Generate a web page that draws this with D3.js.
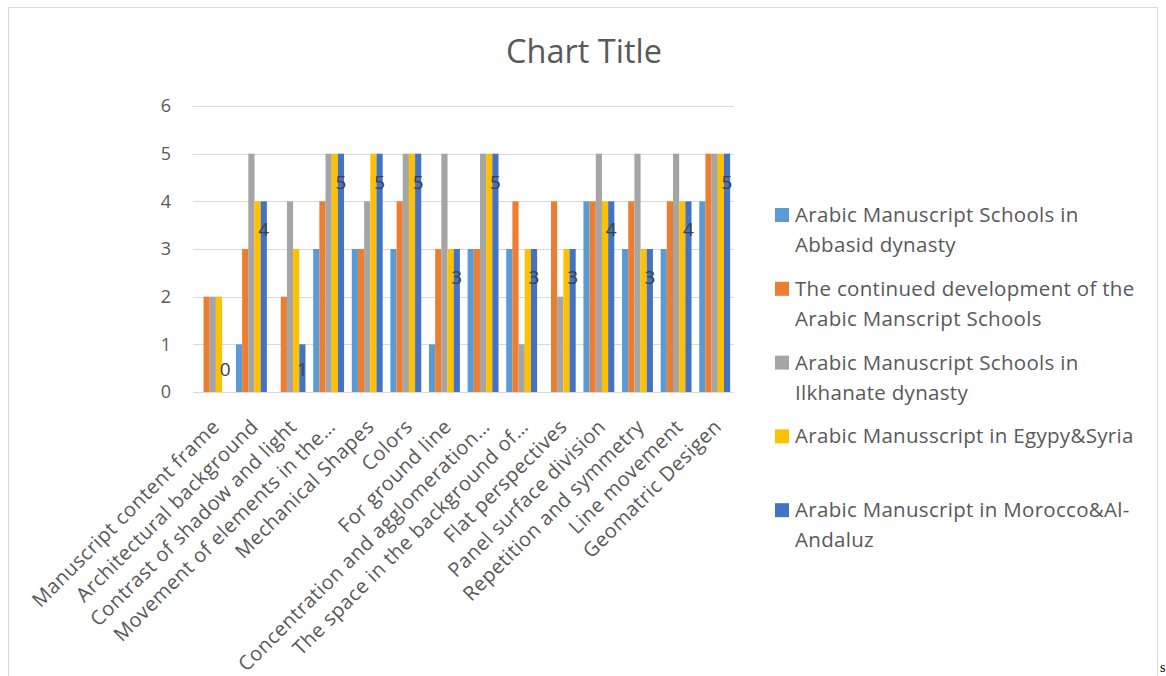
<!DOCTYPE html>
<html>
  <head>
    <meta charset="utf-8">
    <title>Chart Title</title>
    <style>
      body { margin: 0; background: #fff; }
      text { font-family: "Open Sans", "Noto Sans", sans-serif; }
    </style>
  </head>
  <body>
    <script src="https://cdn.jsdelivr.net/npm/d3@7"></script>
    <script>
      // categories on the x axis (long ones are cut off like in the original)
      var categories = [
        "Manuscript content frame",
        "Architectural background",
        "Contrast of shadow and light",
        "Movement of elements in the…",
        "Mechanical Shapes",
        "Colors",
        "For ground line",
        "Concentration and agglomeration…",
        "The space in the background of…",
        "Flat perspectives",
        "Panel surface division",
        "Repetition and symmetry",
        "Line movement",
        "Geomatric Desigen"
      ];

      // legend names, already split into lines
      var seriesNames = [
        ["Arabic Manuscript Schools in", "Abbasid dynasty"],
        ["The continued development of the", "Arabic Manscript Schools"],
        ["Arabic Manuscript Schools in", "Ilkhanate dynasty"],
        ["Arabic Manusscript in Egypy&Syria"],
        ["Arabic Manuscript in Morocco&Al-", "Andaluz"]
      ];

      var seriesColors = ["#5B9BD5", "#ED7D31", "#A5A5A5", "#FFC000", "#4472C4"];

      // one array per series, one value per category
      var abbasid   = [0, 1, 0, 3, 3, 3, 1, 3, 3, 0, 4, 3, 3, 4];
      var continued = [2, 3, 2, 4, 3, 4, 3, 3, 4, 4, 4, 4, 4, 5];
      var ilkhanate = [2, 5, 4, 5, 4, 5, 5, 5, 1, 2, 5, 5, 5, 5];
      var egypt     = [2, 4, 3, 5, 5, 5, 3, 5, 3, 3, 4, 3, 4, 5];
      var morocco   = [0, 4, 1, 5, 5, 5, 3, 5, 3, 3, 4, 3, 4, 5];

      var series = [abbasid, continued, ilkhanate, egypt, morocco];

      var yTicks = [0, 1, 2, 3, 4, 5, 6];

      var width = 1166, height = 676;
      var textColor = "#595959";

      var svg = d3.select("body").append("svg")
        .attr("width", width)
        .attr("height", height);

      // frame of the chart area
      svg.append("rect")
        .attr("x", 8.5).attr("y", 7.5)
        .attr("width", 1149).attr("height", 700)
        .attr("fill", "none")
        .attr("stroke", "#d9d9d9")
        .attr("stroke-width", 1);

      // scales
      var x0 = d3.scaleBand()
        .domain(categories)
        .range([193.5, 734])
        .paddingInner(0.2)
        .paddingOuter(0.1);

      var x1 = d3.scaleBand()
        .domain(d3.range(series.length))
        .range([0, x0.bandwidth()]);

      var y = d3.scaleLinear()
        .domain([0, 6])
        .range([392, 106]);

      // gridlines
      svg.append("g")
        .selectAll("line")
        .data(yTicks)
        .enter()
        .append("line")
        .attr("x1", 193).attr("x2", 734)
        .attr("y1", d => Math.round(y(d)) + 0.5)
        .attr("y2", d => Math.round(y(d)) + 0.5)
        .attr("stroke", "#d9d9d9")
        .attr("stroke-width", 1);

      // y tick labels
      svg.append("g")
        .selectAll("text")
        .data(yTicks)
        .enter()
        .append("text")
        .attr("x", 171)
        .attr("y", d => y(d))
        .attr("dy", "0.36em")
        .attr("text-anchor", "end")
        .attr("fill", textColor)
        .style("font-size", "18px")
        .text(d => d);

      // bars
      var groups = svg.append("g")
        .selectAll("g")
        .data(categories)
        .enter()
        .append("g")
        .attr("transform", d => "translate(" + x0(d) + ",0)");

      groups.selectAll("rect")
        .data((d, ci) => series.map((s, si) => ({ si: si, v: s[ci] })))
        .enter()
        .append("rect")
        .attr("x", d => x1(d.si))
        .attr("width", x1.bandwidth())
        .attr("y", d => y(d.v))
        .attr("height", d => y(0) - y(d.v))
        .attr("fill", d => seriesColors[d.si]);

      // data labels on the last series only
      svg.append("g")
        .selectAll("text")
        .data(morocco)
        .enter()
        .append("text")
        .attr("x", (d, i) => x0(categories[i]) + x1(4) + x1.bandwidth() / 2)
        .attr("y", d => Math.min(y(d) + 35, 376))
        .attr("text-anchor", "middle")
        .attr("fill", "#404040")
        .style("font-size", "19px")
        .text(d => d);

      // x labels, rotated
      svg.append("g")
        .selectAll("text")
        .data(categories)
        .enter()
        .append("text")
        .attr("transform", d => "translate(" + (x0(d) + x0.bandwidth() / 2 + 8) + ",428) rotate(-45)")
        .attr("text-anchor", "end")
        .attr("fill", textColor)
        .style("font-size", "20px")
        .style("letter-spacing", "0.5px")
        .text(d => d);

      // title
      svg.append("text")
        .attr("x", 584)
        .attr("y", 63)
        .attr("text-anchor", "middle")
        .attr("fill", textColor)
        .style("font-size", "32.5px")
        .text("Chart Title");

      // legend
      var legend = svg.append("g")
        .selectAll("g")
        .data(seriesNames)
        .enter()
        .append("g")
        .attr("transform", (d, i) => "translate(775," + (222 + i * 73.8) + ")");

      legend.append("rect")
        .attr("y", -14)
        .attr("width", 14).attr("height", 14)
        .attr("fill", (d, i) => seriesColors[i]);

      legend.append("text")
        .attr("fill", textColor)
        .style("font-size", "20.5px")
        .style("letter-spacing", "0.3px")
        .selectAll("tspan")
        .data(d => d)
        .enter()
        .append("tspan")
        .attr("x", 20)
        .attr("y", (d, i) => i * 30)
        .text(d => d);

      // bit of page text cut by the screenshot edge
      svg.append("text")
        .attr("x", 1160).attr("y", 672)
        .attr("fill", "#000")
        .style("font-family", "Liberation Serif")
        .style("font-size", "14px")
        .text("s");
    </script>
  </body>
</html>
